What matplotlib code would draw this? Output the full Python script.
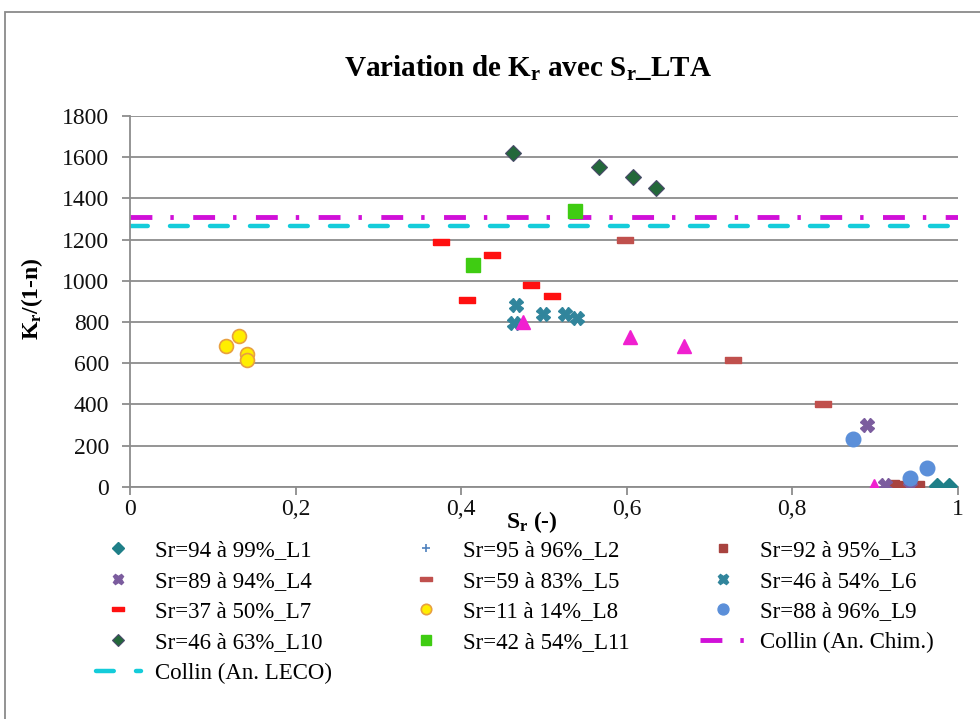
import matplotlib
matplotlib.use("Agg")
import matplotlib.pyplot as plt
from matplotlib.patches import Rectangle
from matplotlib.ticker import FuncFormatter

# ================> Part Data
l1_x = [0.975, 0.99]
l1_y = [2, 2]
l2_x = [0.925, 0.945]
l2_y = [5, 0]
l3_x = [0.922, 0.932, 0.942, 0.952]
l3_y = [4, 0, 6, 0]
l4_x = [0.891, 0.912, 0.943]
l4_y = [300, 8, 0]
l5_x = [0.598, 0.729, 0.837]
l5_y = [1198, 615, 402]
l6_x = [0.466, 0.464, 0.499, 0.526, 0.540]
l6_y = [882, 795, 839, 839, 819]
l7_x = [0.376, 0.437, 0.485, 0.510, 0.407]
l7_y = [1188, 1127, 981, 926, 907]
l8_x = [0.116, 0.132, 0.141, 0.141]
l8_y = [683, 732, 644, 615]
l9_x = [0.874, 0.943, 0.963]
l9_y = [232, 42, 91]
l10_x = [0.463, 0.567, 0.608, 0.636]
l10_y = [1621, 1553, 1504, 1451]
l11_x = [0.414, 0.538]
l11_y = [1077, 1339]
tri_x = [0.475, 0.604, 0.669, 0.899]
tri_y = [800, 727, 684, 3]
collin_x = [0, 1]
collin_chim = 1310
collin_leco = 1265

labels = ["Sr=94 à 99%_L1", "Sr=95 à 96%_L2", "Sr=92 à 95%_L3",
          "Sr=89 à 94%_L4", "Sr=59 à 83%_L5", "Sr=46 à 54%_L6",
          "Sr=37 à 50%_L7", "Sr=11 à 14%_L8", "Sr=88 à 96%_L9",
          "Sr=46 à 63%_L10", "Sr=42 à 54%_L11",
          "Collin (An. Chim.)", "Collin (An. LECO)"]

# ================> Part Style
plt.rcParams['font.family'] = ['Liberation Serif', 'DejaVu Serif']
plt.rcParams['mathtext.fontset'] = 'custom'
plt.rcParams['mathtext.rm'] = 'Liberation Serif'
plt.rcParams['mathtext.bf'] = 'Liberation Serif:bold'
plt.rcParams['mathtext.it'] = 'Liberation Serif:italic'

dash_marker = [(-1, -0.38), (1, -0.38), (1, 0.38), (-1, 0.38), (-1, -0.38)]

fig = plt.figure(figsize=(9.8, 7.19), dpi=100)
ax = fig.add_axes([130 / 980, 1 - 486.7 / 719, 827.5 / 980, 370.7 / 719])

# outer chart border
fig.patches.append(Rectangle((5 / 980, -0.5), 1.5, 1.5 - 12 / 719,
                             transform=fig.transFigure, fill=False,
                             edgecolor='#8a8a8a', linewidth=1.3))

h = {}
h['L1'], = ax.plot(l1_x, l1_y, linestyle='none', marker='D', ms=8.5,
                   color='#1f7f88', mec='#1f7f88', zorder=3)
h['L2'], = ax.plot(l2_x, l2_y, linestyle='none', marker='+', ms=8,
                   mew=1.2, color='#4f81bd', zorder=3)
h['L3'], = ax.plot(l3_x, l3_y, linestyle='none', marker='s', ms=8,
                   color='#a8433f', zorder=3)
h['L4'], = ax.plot(l4_x, l4_y, linestyle='none', marker='X', ms=10,
                   color='#7b5c9e', mec='#7b5c9e', zorder=3)
h['L5'], = ax.plot(l5_x, l5_y, linestyle='none', marker=dash_marker, ms=12,
                   color='#c0504d', mec='#c0504d', zorder=3)
h['L6'], = ax.plot(l6_x, l6_y, linestyle='none', marker='X', ms=10,
                   color='#31859c', mec='#31859c', zorder=3)
h['L7'], = ax.plot(l7_x, l7_y, linestyle='none', marker=dash_marker, ms=11,
                   color='#ff1010', mec='#ff1010', zorder=3)
h['L8'], = ax.plot(l8_x, l8_y, linestyle='none', marker='o', ms=10,
                   color='#ffee00', mec='#e8a040', mew=1.2, zorder=3)
h['L9'], = ax.plot(l9_x, l9_y, linestyle='none', marker='o', ms=10.5,
                   color='#5b8fd9', mec='#5b8fd9', zorder=3)
h['L10'], = ax.plot(l10_x, l10_y, linestyle='none', marker='D', ms=8.5,
                    color='#23683a', mec='#4a4a6a', mew=0.8, zorder=3)
h['L11'], = ax.plot(l11_x, l11_y, linestyle='none', marker='s', ms=10,
                    color='#3fcc12', mec='#3fcc12', zorder=3)
ax.plot(tri_x, tri_y, linestyle='none', marker='^', ms=10,
        color='#f020d0', mec='#f020d0', zorder=4)
h['Chim'], = ax.plot(collin_x, [collin_chim] * 2, color='#d010d8', lw=3.5,
                     linestyle=(0, (4.5, 3.7, 0.7, 4.0)), zorder=2)
h['LECO'], = ax.plot(collin_x, [collin_leco] * 2, color='#14ccda', lw=3.2,
                     linestyle=(0, (4.0, 5.0)), dash_capstyle='round', zorder=2)

# ================> Part Axes
ax.set_xlim(0, 1)
ax.set_ylim(0, 1800)
ax.set_xticks([0, 0.2, 0.4, 0.6, 0.8, 1])
ax.set_yticks(range(0, 1801, 200))
ax.xaxis.set_major_formatter(FuncFormatter(lambda v, p: ('%g' % v).replace('.', ',')))
ax.grid(axis='y', color='#8c8c8c', linewidth=1.3)
ax.set_axisbelow(True)
for side in ['top', 'right']:
    ax.spines[side].set_visible(False)
for side in ['left', 'bottom']:
    ax.spines[side].set_color('#8c8c8c')
    ax.spines[side].set_linewidth(1.3)
ax.tick_params(axis='both', direction='out', length=6, width=1.3,
               color='#8c8c8c', labelsize=17, labelcolor='#111111')
ax.tick_params(axis='y', pad=9)
ax.tick_params(axis='x', pad=3)

fig.text(0.539, 0.905, r'Variation de K$_\mathbf{r}$ avec S$_\mathbf{r}$_LTA',
         ha='center', va='center', fontsize=21, fontweight='bold')
ax.set_ylabel(r'K$_\mathbf{r}$/(1-n)', fontsize=17, fontweight='bold',
              ha='center', va='center')
ax.yaxis.set_label_coords(-0.118, 0.506)
ax.set_xlabel(r'S$_\mathbf{r}$ (-)', fontsize=17, fontweight='bold',
              ha='center', va='center')
ax.xaxis.set_label_coords(0.486, -0.095)

# legend: Excel fills row by row, matplotlib column by column
order = ['L1', 'L4', 'L7', 'L10', 'LECO',
         'L2', 'L5', 'L8', 'L11',
         'L3', 'L6', 'L9', 'Chim']
name = {'L1': 0, 'L2': 1, 'L3': 2, 'L4': 3, 'L5': 4, 'L6': 5, 'L7': 6,
        'L8': 7, 'L9': 8, 'L10': 9, 'L11': 10, 'Chim': 11, 'LECO': 12}
leg = fig.legend([h[k] for k in order], [labels[name[k]] for k in order],
                 ncol=3, loc='upper left', bbox_to_anchor=(0.0975, 0.249),
                 frameon=False, fontsize=16.5, handlelength=2.0,
                 handletextpad=0.6, columnspacing=3.1, labelspacing=0.42,
                 borderaxespad=0, borderpad=0, markerscale=0.75)

fig.savefig('out.png', dpi=100)
